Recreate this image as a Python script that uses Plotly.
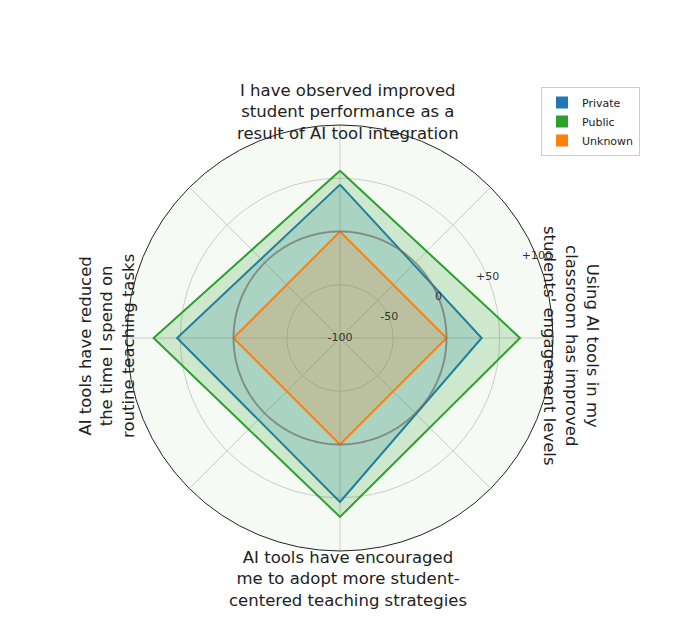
import numpy as np
import plotly.graph_objects as go

questions = [
    "I have observed improved<br>student performance as a<br>result of AI tool integration",
    "Using AI tools in my<br>classroom has improved<br>students' engagement levels",
    "AI tools have encouraged<br>me to adopt more student-<br>centered teaching strategies",
    "AI tools have reduced<br>the time I spend on<br>routine teaching tasks",
]
groups = ["Private", "Public", "Unknown"]
private = [44, 33, 54, 53]
public = [57, 69, 68, 75]
unknown = [0, 0, 0, 0]
radial_ticks = [-100, -50, 0, 50, 100]
radial_text = ["-100", "-50", "0", "+50", "+100"]

colors = {"Private": "#1f77b4", "Public": "#2ca02c", "Unknown": "#ff7f0e"}
fills = {"Private": "rgba(31,119,180,0.2)", "Public": "rgba(44,160,44,0.2)",
         "Unknown": "rgba(255,127,14,0.2)"}

theta = [i * 360 / len(questions) for i in range(len(questions))]

fig = go.Figure()
for name, vals in zip(groups, [private, public, unknown]):
    fig.add_trace(go.Scatterpolar(
        r=vals + vals[:1], theta=theta + theta[:1], name=name,
        mode="lines", fill="toself", fillcolor=fills[name],
        line=dict(color=colors[name], width=2), showlegend=False,
    ))

# legend patches
for name in groups:
    fig.add_trace(go.Scatterpolar(r=[None], theta=[None], name=name, mode="markers",
                                  marker=dict(symbol="square", size=12, color=colors[name])))

# darker ring at zero
ring = np.linspace(0, 360, 181)
fig.add_trace(go.Scatterpolar(
    r=[0] * len(ring), theta=ring, mode="lines", showlegend=False,
    hoverinfo="skip", line=dict(color="rgba(110,110,110,0.6)", width=2),
))

# radial tick labels placed like matplotlib (at 22.5 deg, centered)
fig.add_trace(go.Scatterpolar(
    r=radial_ticks, theta=[67.5] * len(radial_ticks), text=radial_text,
    mode="text", textposition="middle center", showlegend=False, hoverinfo="skip",
    textfont=dict(size=11, color="#333"),
))

cx, cy, R = 332, 330, 213
W, H = 685, 644
fig.update_layout(
    width=W, height=H,
    margin=dict(l=0, r=0, t=0, b=0),
    paper_bgcolor="white",
    font=dict(family="DejaVu Sans", color="#222"),
    polar=dict(
        domain=dict(x=[(cx - R) / W, (cx + R) / W],
                    y=[1 - (cy + R) / H, 1 - (cy - R) / H]),
        bgcolor="#f5faf5",
        radialaxis=dict(range=[-100, 100], tickvals=radial_ticks,
                        showticklabels=False, showline=False, ticks="",
                        gridcolor="#cccccc"),
        angularaxis=dict(rotation=90, direction="clockwise", dtick=45,
                         showticklabels=False, ticks="", gridcolor="#cccccc",
                         linecolor="#222", linewidth=1),
    ),
    legend=dict(x=533 / W, y=1 - 79 / H, xanchor="left", yanchor="top",
                bordercolor="#cccccc", borderwidth=1, font=dict(size=11),
                bgcolor="white", tracegroupgap=0, itemwidth=30),
)

label_pos = [(340, 104, 0), (563, 338, 90), (340, 571, 0), (99, 338, -90)]
for q, (x, y, ang) in zip(questions, label_pos):
    fig.add_annotation(text=q, x=x / W, y=1 - y / H, xref="paper", yref="paper",
                       showarrow=False, textangle=ang, font=dict(size=16.5),
                       xanchor="center", yanchor="middle")

fig.write_html("out.html")
